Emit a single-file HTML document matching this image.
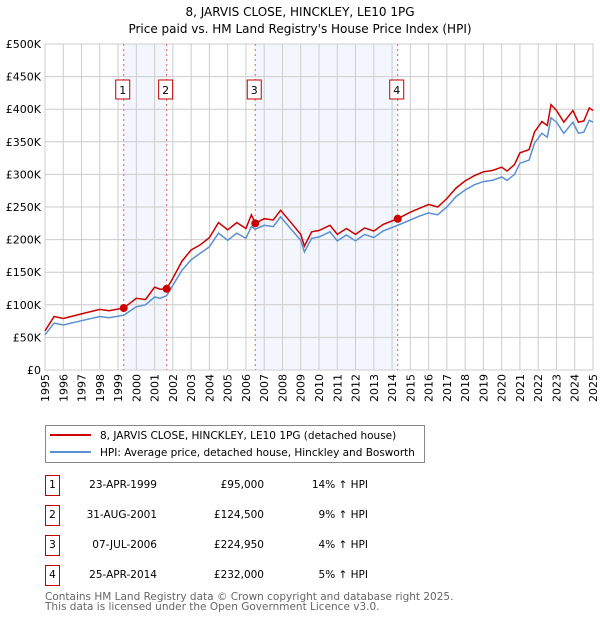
<!DOCTYPE html>
<html><head><meta charset="utf-8"><style>
body{margin:0;background:#fff;font-family:"DejaVu Sans","Liberation Sans",sans-serif;}
svg text{font-family:"DejaVu Sans","Liberation Sans",sans-serif;}
</style></head><body>
<svg id="c" width="600" height="620" xmlns="http://www.w3.org/2000/svg"></svg>
<script>
const dates=[1995.0,1995.5,1996,1997,1998,1998.5,1999.31,2000,2000.5,2001,2001.3,2001.66,2002,2002.5,2003,2003.5,2004,2004.5,2005,2005.5,2006,2006.3,2006.51,2007,2007.5,2007.9,2008.5,2009,2009.2,2009.6,2010,2010.6,2011,2011.5,2012,2012.5,2013,2013.5,2014.31,2015,2015.5,2016,2016.5,2017,2017.5,2018,2018.5,2019,2019.5,2020,2020.3,2020.7,2021,2021.5,2021.8,2022.2,2022.5,2022.7,2023,2023.4,2023.9,2024.2,2024.5,2024.8,2025];
const hpiValues=[54,72,69,75.6,82,80,84,97,100,112,110,114,130,153,169,179,189,210,199,210,202,220,216,222,220,235,215,199,181,202,204,212,198,207,198,208,203,213,222,230,236,241,238,250,266,276,284,289,291,296,291,300,317,322,348,363,357,387,380,363,380,363,365,383,380];
const priceValues=[60,82,79,86,93,91,95,110,108,127,124,124.5,141,167,184,192,203,226,215,226,217,238,225,232,230,245,225,208,190,212,214,222,208,217,208,218,213,223,232,242,248,254,250,263,279,290,298,304,306,311,305,315,333,338,365,381,375,407,398,380,398,380,382,402,398];
const saleDates=[1999.31,2001.66,2006.51,2014.31];
const salePrices=[95,124.5,224.95,232];
const saleLabels=["1","2","3","4"];
const yTicks=[0,50,100,150,200,250,300,350,400,450,500];
const yTickLabels=["£0","£50K","£100K","£150K","£200K","£250K","£300K","£350K","£400K","£450K","£500K"];
const NS="http://www.w3.org/2000/svg";
const svg=document.getElementById('c');
const X0=45,X1=593,Y0=370,Y1=44;
const x=d=>X0+(d-1995)/(2025-1995)*(X1-X0);
const y=v=>Y0-v/500*(Y0-Y1);
function mk(t,a,p){const e=document.createElementNS(NS,t);for(const k in a)e.setAttribute(k,a[k]);(p||svg).appendChild(e);return e;}
function tx(s,a){const e=mk('text',a);e.textContent=s;return e;}
let e;
e=tx("8, JARVIS CLOSE, HINCKLEY, LE10 1PG",{x:300,y:16,'text-anchor':'middle','font-size':12});


e=tx("Price paid vs. HM Land Registry's House Price Index (HPI)",{x:300,y:33,'text-anchor':'middle','font-size':12});


for(let i=0;i<4;i+=2){
 e=mk('rect',{x:x(saleDates[i]),y:Y1,width:x(saleDates[i+1])-x(saleDates[i]),height:Y0-Y1,fill:'#eef3fc',opacity:0.7});
 
 
}
for(let yr=1995;yr<=2025;yr++){
 e=mk('line',{x1:x(yr),x2:x(yr),y1:Y1,y2:Y0,stroke:'#cccccc','stroke-width':1});
 
 
 e=tx(String(yr),{transform:`translate(${x(yr)+4},${Y0+32}) rotate(-90)`,'font-size':11});
 
 
}
yTicks.forEach((v,i)=>{
 e=mk('line',{x1:X0,x2:X1,y1:y(v),y2:y(v),stroke:'#cccccc','stroke-width':1});
 
 
 e=tx(yTickLabels[i],{x:X0-4,y:y(v)+4,'text-anchor':'end','font-size':11});
 
 
});
e=mk('rect',{x:X0,y:Y1,width:X1-X0,height:Y0-Y1,fill:'none',stroke:'#cccccc'});


saleDates.forEach((d,i)=>{
 e=mk('line',{x1:x(d),x2:x(d),y1:Y1,y2:Y0,stroke:'#e06060','stroke-width':1,'stroke-dasharray':'2,3'});
 
 
 e=mk('rect',{x:x(d)-8,y:80,width:14,height:19,fill:'#fff',stroke:'#c00000'});
 
 
 e=tx(saleLabels[i],{x:x(d)-1,y:94,'text-anchor':'middle','font-size':11});
 
 
});
const pts=a=>a.map((v,i)=>x(dates[i]).toFixed(1)+','+y(v).toFixed(1)).join(' ');
e=mk('polyline',{points:pts(hpiValues),fill:'none',stroke:'#5b8fd0','stroke-width':1.5});


e=mk('polyline',{points:pts(priceValues),fill:'none',stroke:'#cc0000','stroke-width':1.5});


saleDates.forEach((d,i)=>{
 e=mk('circle',{cx:x(d),cy:y(salePrices[i]),r:4,fill:'#cc0000'});
 
 
});
e=mk('rect',{x:45.5,y:425.5,width:379,height:37,fill:'#fff',stroke:'#888'});


e=mk('line',{x1:50,x2:91,y1:435,y2:435,stroke:'#cc0000','stroke-width':2});


e=tx("8, JARVIS CLOSE, HINCKLEY, LE10 1PG (detached house)",{x:100,y:439,'font-size':10.5});


e=mk('line',{x1:50,x2:91,y1:452,y2:452,stroke:'#5b8fd0','stroke-width':2});


e=tx("HPI: Average price, detached house, Hinckley and Bosworth",{x:100,y:456,'font-size':10.5});


const tDates=["23-APR-1999","31-AUG-2001","07-JUL-2006","25-APR-2014"];
const tPrices=["£95,000","£124,500","£224,950","£232,000"];
const tPct=["14% ↑ HPI","9% ↑ HPI","4% ↑ HPI","5% ↑ HPI"];
for(let i=0;i<4;i++){
 const ty=476+i*30;
 e=mk('rect',{x:45.5,y:ty-0.5,width:14,height:20,fill:'#fff',stroke:'#c00000'});
 
 
 e=tx(saleLabels[i],{x:52.5,y:ty+12,'text-anchor':'middle','font-size':10.5});
 
 
 e=tx(tDates[i],{x:157,y:ty+12,'text-anchor':'end','font-size':10.5});
 
 
 e=tx(tPrices[i],{x:264,y:ty+12,'text-anchor':'end','font-size':10.5});
 
 
 e=tx(tPct[i],{x:368,y:ty+12,'text-anchor':'end','font-size':10.5});
 
 
}
e=tx("Contains HM Land Registry data © Crown copyright and database right 2025.",{x:45,y:600,'font-size':10.5,fill:'#666'});


e=tx("This data is licensed under the Open Government Licence v3.0.",{x:45,y:610,'font-size':10.5,fill:'#666'});


</script>
</body></html>
